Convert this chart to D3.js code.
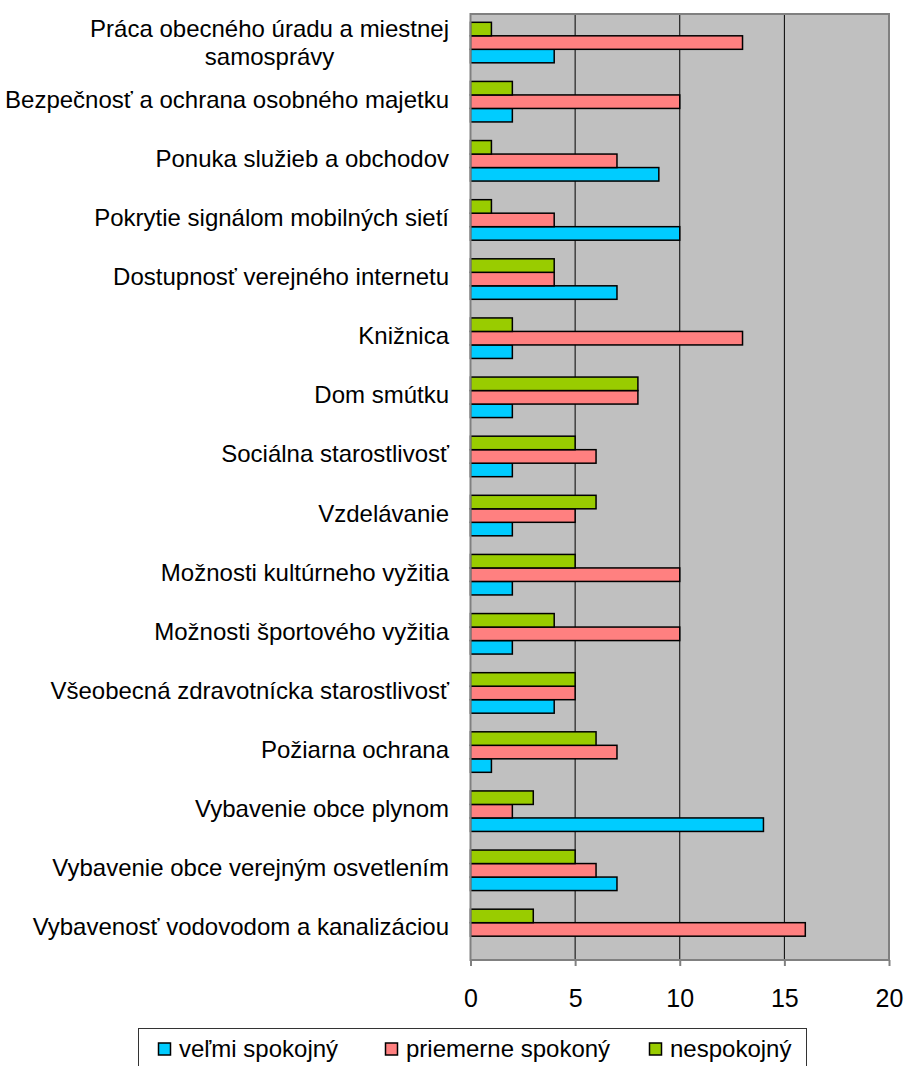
<!DOCTYPE html>
<html>
<head>
<meta charset="utf-8">
<script src="https://cdn.jsdelivr.net/npm/d3@7"></script>
<style>
  html, body { margin: 0; padding: 0; background: #fff; }
  svg { display: block; font-family: "Liberation Sans", Arial, sans-serif; }
</style>
</head>
<body>
<svg id="chart" width="904" height="1066"></svg>
<script>
// ---- data ----
const categories = [
  "Práca obecného úradu a miestnej samosprávy",
  "Bezpečnosť a ochrana osobného majetku",
  "Ponuka služieb a obchodov",
  "Pokrytie signálom mobilných sietí",
  "Dostupnosť verejného internetu",
  "Knižnica",
  "Dom smútku",
  "Sociálna starostlivosť",
  "Vzdelávanie",
  "Možnosti kultúrneho vyžitia",
  "Možnosti športového vyžitia",
  "Všeobecná zdravotnícka starostlivosť",
  "Požiarna ochrana",
  "Vybavenie obce plynom",
  "Vybavenie obce verejným osvetlením",
  "Vybavenosť vodovodom a kanalizáciou"
];
const seriesNames = ["veľmi spokojný", "priemerne spokoný", "nespokojný"];
const velmiSpokojny    = [4, 2, 9, 10, 7, 2, 2, 2, 2, 2, 2, 4, 1, 14, 7, 0];
const priemerneSpokony = [13, 10, 7, 4, 4, 13, 8, 6, 5, 10, 10, 5, 7, 2, 6, 16];
const nespokojny       = [1, 2, 1, 1, 4, 2, 8, 5, 6, 5, 4, 5, 6, 3, 5, 3];
const xTicks = [0, 5, 10, 15, 20];
const seriesColors = ["#00CCFF", "#FF8080", "#99CC00"];

const seriesValues = [velmiSpokojny, priemerneSpokony, nespokojny];

// ---- layout ----
const svg = d3.select("#chart");
const plot = { left: 470.5, right: 889, top: 14, bottom: 960 };

const x = d3.scaleLinear().domain([0, 20]).range([plot.left, plot.right]);
const y = d3.scaleBand().domain(categories).range([plot.top, plot.bottom])
  .paddingInner(0.315).paddingOuter(0.1575);
// top-to-bottom order inside each group: nespokojný, priemerne, veľmi
const sub = d3.scaleBand().domain([2, 1, 0]).range([0, y.bandwidth()]);

// plot background
svg.append("rect")
  .attr("x", plot.left).attr("y", plot.top)
  .attr("width", plot.right - plot.left).attr("height", plot.bottom - plot.top)
  .attr("fill", "#C0C0C0");

// gridlines
svg.append("g").selectAll("line")
  .data(xTicks.filter(t => t > 0 && t < 20))
  .join("line")
  .attr("x1", d => x(d)).attr("x2", d => x(d))
  .attr("y1", plot.top).attr("y2", plot.bottom)
  .attr("stroke", "#000").attr("stroke-width", 1);

// bars
const rows = categories.map((c, i) => ({ c, vals: seriesValues.map(s => s[i]) }));
const groups = svg.append("g").selectAll("g")
  .data(rows).join("g")
  .attr("transform", d => `translate(0,${y(d.c) - 1})`);
groups.selectAll("rect")
  .data(d => d.vals.map((v, k) => ({ v, k })).filter(e => e.v > 0))
  .join("rect")
  .attr("x", x(0))
  .attr("y", e => sub(e.k))
  .attr("width", e => x(e.v) - x(0))
  .attr("height", sub.bandwidth())
  .attr("fill", e => seriesColors[e.k])
  .attr("stroke", "#000").attr("stroke-width", 1.5);

// plot border
svg.append("rect")
  .attr("x", plot.left).attr("y", plot.top)
  .attr("width", plot.right - plot.left).attr("height", plot.bottom - plot.top)
  .attr("fill", "none").attr("stroke", "#808080").attr("stroke-width", 2);

// x axis
const xAxis = d3.axisBottom(x).tickValues(xTicks).tickSize(6).tickPadding(20).tickFormat(d3.format("d"));
const gx = svg.append("g").attr("transform", `translate(0,${plot.bottom})`).call(xAxis);
gx.select(".domain").remove();
gx.selectAll(".tick line").attr("stroke", "#808080").attr("stroke-width", 2);
gx.selectAll(".tick text")
  .attr("font-size", 25).attr("fill", "#000")
  .attr("font-family", "'Liberation Sans', Arial, sans-serif")
  .attr("dy", null).attr("y", 47);

// category labels (right aligned, wrapped)
const labelRight = 449;
const labelG = svg.append("g").attr("font-size", 24).attr("fill", "#000");
categories.forEach(c => {
  const cy = y(c) + y.bandwidth() / 2;
  const words = c.split(" ");
  // measure & wrap
  const t = labelG.append("text").attr("font-size", 24);
  const lines = [];
  let cur = [];
  words.forEach(w => {
    const test = cur.concat([w]).join(" ");
    t.text(test);
    if (t.node().getComputedTextLength() > 455 && cur.length) {
      lines.push(cur.join(" "));
      cur = [w];
    } else cur.push(w);
  });
  lines.push(cur.join(" "));
  let maxW = 0;
  lines.forEach(l => { t.text(l); maxW = Math.max(maxW, t.node().getComputedTextLength()); });
  t.remove();
  const lh = 28;
  const base = lines.length > 1 ? cy - 7 : cy + 5;
  const txt = labelG.append("text")
    .attr("text-anchor", "middle")
    .attr("x", labelRight - maxW / 2);
  lines.forEach((l, i) => {
    txt.append("tspan").attr("x", labelRight - maxW / 2).attr("y", base + i * lh).text(l);
  });
});

// legend
const legend = svg.append("g");
legend.append("rect")
  .attr("x", 138.5).attr("y", 1028.5).attr("width", 668).attr("height", 60)
  .attr("fill", "#fff").attr("stroke", "#333").attr("stroke-width", 1);
const legendX = [158, 385, 649];
const items = legend.selectAll("g.item").data(seriesNames).join("g")
  .attr("class", "item")
  .attr("transform", (d, i) => `translate(${legendX[i]},0)`);
items.append("rect")
  .attr("x", 0.5).attr("y", 1043).attr("width", 12).attr("height", 12)
  .attr("fill", (d, i) => seriesColors[i]).attr("stroke", "#000").attr("stroke-width", 1.5);
items.append("text")
  .attr("x", 21).attr("y", 1056.5)
  .attr("font-size", 24).attr("fill", "#000")
  .text(d => d);
</script>
</body>
</html>
